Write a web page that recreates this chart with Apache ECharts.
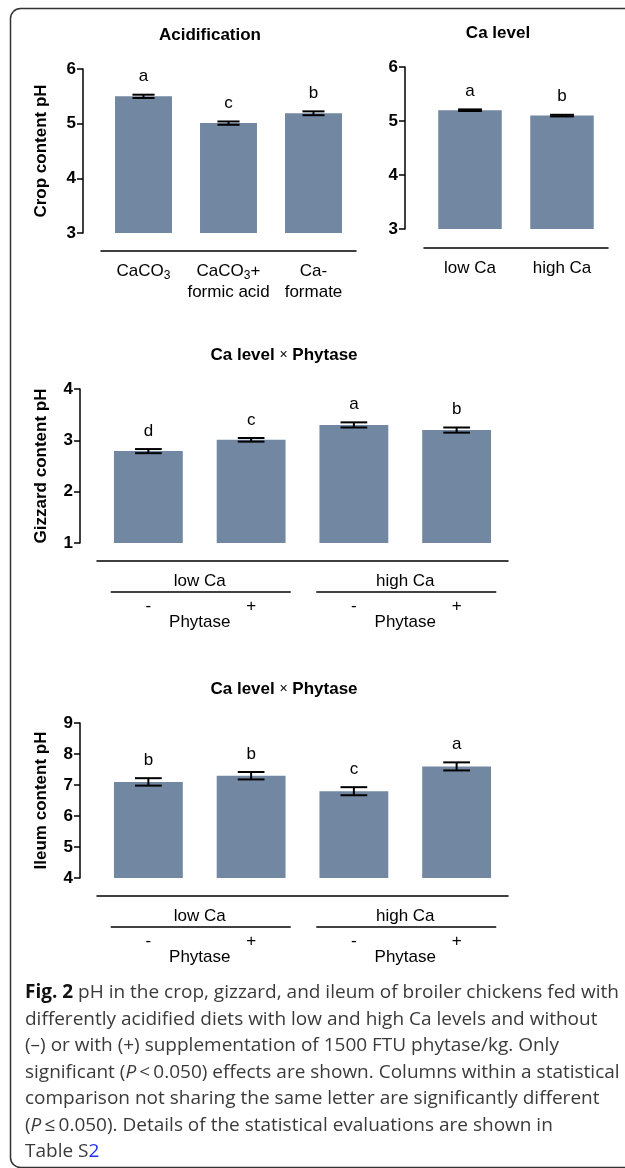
<!DOCTYPE html>
<html>
<head>
<meta charset="utf-8">
<script src="https://cdn.jsdelivr.net/npm/echarts@6/dist/echarts.min.js"></script>
<style>
  html, body { margin: 0; padding: 0; background: #fff; }
  #main { width: 625px; height: 1168px; }
</style>
</head>
<body>
<div id="main"></div>
<script>
// --- data ---
const cropCats = ['CaCO3', 'CaCO3+\nformic acid', 'Ca-\nformate'];
const cropMeans = [5.50, 5.01, 5.19];
const cropSE = [0.03, 0.03, 0.035];
const cropLetters = ['a', 'c', 'b'];
const cropTicks = [3, 6, 1];   // min, max, interval

const caCats = ['low Ca', 'high Ca'];
const caMeans = [5.20, 5.10];
const caSE = [0.015, 0.015];
const caLetters = ['a', 'b'];
const caTicks = [3, 6, 1];

const groupCats = ['low Ca -', 'low Ca +', 'high Ca -', 'high Ca +'];
const groupNames = ['low Ca', 'high Ca'];
const phytaseSigns = ['-', '+'];

const gizzardMeans = [2.79, 3.01, 3.30, 3.20];
const gizzardSE = [0.04, 0.035, 0.05, 0.05];
const gizzardLetters = ['d', 'c', 'a', 'b'];
const gizzardTicks = [1, 4, 1];

const ileumMeans = [7.10, 7.30, 6.80, 7.60];
const ileumSE = [0.12, 0.12, 0.13, 0.13];
const ileumLetters = ['b', 'b', 'c', 'a'];
const ileumTicks = [4, 9, 1];

const captionLines = [
  '{b|Fig. 2} pH in the crop, gizzard, and ileum of broiler chickens fed with',
  'differently acidified diets with low and high Ca levels and without',
  '(\u2013) or with (+) supplementation of 1500 FTU phytase/kg. Only',
  'significant ({i|P}\u2009<\u20090.050) effects are shown. Columns within a statistical',
  'comparison not sharing the same letter are significantly different',
  '({i|P}\u2009\u2264\u20090.050). Details of the statistical evaluations are shown in',
  'Table S{l|2}'
];

const FONT = '"Liberation Sans", Arial, sans-serif';
const FS = 17;
const BAR = '#7187a2';

const chart = echarts.init(document.getElementById('main'));

const grids = [
  { left: 101, top: 69, width: 255, height: 164 },
  { left: 424, top: 67, width: 184, height: 162 },
  { left: 97, top: 389, width: 411, height: 154 },
  { left: 97, top: 723, width: 411, height: 155 }
];

function xAxis(idx, cats, offset, showLabel) {
  return {
    type: 'category', gridIndex: idx, data: cats, offset: offset,
    axisLine: { lineStyle: { color: '#000', width: 1.5 } },
    axisTick: { show: false },
    axisLabel: {
      show: showLabel, interval: 0, margin: 10, color: '#000',
      fontFamily: FONT, fontSize: FS, lineHeight: 21,
      formatter: v => v.split('\n').map(l => '{m|' + l.replace('CaCO3', 'CaCO}{s|3}{m|') + '}').join('\n'),
      rich: {
        m: { fontFamily: FONT, fontSize: FS, lineHeight: 21, color: '#000' },
        s: { fontFamily: FONT, fontSize: 12, lineHeight: 12, verticalAlign: 'bottom', color: '#000' }
      }
    }
  };
}

function yAxis(idx, ticks, offset, name, gap) {
  return {
    type: 'value', gridIndex: idx, min: ticks[0], max: ticks[1], interval: ticks[2],
    offset: offset,
    name: name, nameLocation: 'middle', nameRotate: 90, nameGap: gap,
    nameTextStyle: { fontFamily: FONT, fontWeight: 'bold', fontSize: FS, color: '#000' },
    axisLine: { show: true, lineStyle: { color: '#000', width: 1.5 } },
    axisTick: { show: true, length: 6, lineStyle: { color: '#000', width: 1.5 } },
    axisLabel: { margin: 7, color: '#000', fontFamily: FONT, fontWeight: 'bold', fontSize: FS },
    splitLine: { show: false }
  };
}

function barSeries(idx, means, width) {
  return {
    type: 'bar', xAxisIndex: idx, yAxisIndex: idx, data: means,
    barWidth: width, itemStyle: { color: BAR }, silent: true
  };
}

// error bars (mean ± SE) and the significance letters
function errSeries(idx, means, se, letters) {
  return {
    type: 'custom', xAxisIndex: idx, yAxisIndex: idx, z: 10, silent: true,
    data: means.map((m, i) => [i, m, se[i]]),
    encode: { x: 0, y: 1 },
    renderItem: function (params, api) {
      const x = api.coord([api.value(0), api.value(1)])[0];
      const hi = api.coord([api.value(0), api.value(1) + api.value(2)])[1];
      const lo = api.coord([api.value(0), api.value(1) - api.value(2)])[1];
      const half = api.size([1, 0])[0] * 0.13;
      const st = { stroke: '#000', lineWidth: 2 };
      return {
        type: 'group',
        children: [
          { type: 'line', shape: { x1: x, y1: hi, x2: x, y2: lo }, style: st },
          { type: 'line', shape: { x1: x - half, y1: hi, x2: x + half, y2: hi }, style: st },
          { type: 'line', shape: { x1: x - half, y1: lo, x2: x + half, y2: lo }, style: st },
          {
            type: 'text', x: x, y: hi - 18,
            style: {
              text: letters[params.dataIndex], fill: '#000', font: FS + 'px ' + FONT,
              align: 'center', verticalAlign: 'middle'
            }
          }
        ]
      };
    }
  };
}

const option = {
  backgroundColor: '#fff',
  animation: false,
  grid: grids,
  xAxis: [
    xAxis(0, cropCats, 18, true),
    xAxis(1, caCats, 19, true),
    xAxis(2, groupCats, 18, false),
    xAxis(3, groupCats, 18, false)
  ],
  yAxis: [
    yAxis(0, cropTicks, 18, 'Crop content pH', 33),
    yAxis(1, caTicks, 19, '', 30),
    yAxis(2, gizzardTicks, 17, 'Gizzard content pH', 30),
    yAxis(3, ileumTicks, 17, 'Ileum content pH', 30)
  ],
  series: [
    barSeries(0, cropMeans, '67%'),
    barSeries(1, caMeans, '69%'),
    barSeries(2, gizzardMeans, '67%'),
    barSeries(3, ileumMeans, '67%'),
    errSeries(0, cropMeans, cropSE, cropLetters),
    errSeries(1, caMeans, caSE, caLetters),
    errSeries(2, gizzardMeans, gizzardSE, gizzardLetters),
    errSeries(3, ileumMeans, ileumSE, ileumLetters)
  ]
};

chart.setOption(option);

// --- frame, titles, grouped labels and caption ---
const g = [];
g.push({
  type: 'rect', silent: true,
  shape: { x: 10.5, y: 8.5, width: 700, height: 1159, r: 10 },
  style: { fill: 'none', stroke: '#333', lineWidth: 1.5 }
});

const titleRich = {
  b: { fontFamily: FONT, fontWeight: 'bold', fontSize: FS, fill: '#000' },
  x: { fontFamily: FONT, fontSize: 14, fill: '#000' }
};
function title(text, x, y) {
  g.push({
    type: 'text', x: x, y: y, silent: true,
    style: { text: text, rich: titleRich, align: 'center', verticalAlign: 'middle' }
  });
}
title('{b|Acidification}', 210, 35);
title('{b|Ca level}', 498, 33);
title('{b|Ca level }{x|\u00d7}{b| Phytase}', 284, 355);
title('{b|Ca level }{x|\u00d7}{b| Phytase}', 284, 689);

function txt(text, x, y) {
  g.push({
    type: 'text', x: x, y: y, silent: true,
    style: { text: text, fill: '#000', font: FS + 'px ' + FONT, align: 'center', verticalAlign: 'middle' }
  });
}

[2, 3].forEach(function (idx) {
  const base = chart.convertToPixel({ yAxisIndex: idx }, idx === 2 ? gizzardTicks[0] : ileumTicks[0]);
  groupNames.forEach(function (name, k) {
    const x0 = chart.convertToPixel({ xAxisIndex: idx }, groupCats[k * 2]);
    const x1 = chart.convertToPixel({ xAxisIndex: idx }, groupCats[k * 2 + 1]);
    const c = (x0 + x1) / 2;
    txt(name, c, base + 38);
    g.push({
      type: 'line', silent: true,
      shape: { x1: c - 89, y1: base + 49, x2: c + 91, y2: base + 49 },
      style: { stroke: '#000', lineWidth: 1.5 }
    });
    txt(phytaseSigns[0], x0, base + 63);
    txt(phytaseSigns[1], x1, base + 63);
    txt('Phytase', c, base + 79);
  });
});

const CAP = 19;
const capRich = {
  b: { fontFamily: '"Open Sans"', fontWeight: 'bold', fontSize: CAP, fill: '#111' },
  i: { fontFamily: '"Open Sans"', fontStyle: 'italic', fontSize: CAP, fill: '#3a3a3a' },
  l: { fontFamily: '"Open Sans"', fontSize: CAP, fill: '#2233ee' }
};
captionLines.forEach(function (line, i) {
  g.push({
    type: 'text', x: 25, y: 993 + i * 26.5, silent: true,
    style: {
      text: line, rich: capRich, fill: '#3a3a3a', font: CAP + 'px "Open Sans"',
      align: 'left', verticalAlign: 'middle'
    }
  });
});

chart.setOption({ graphic: g });

window.addEventListener('resize', function () {
  chart.resize();
});
</script>
</body>
</html>
